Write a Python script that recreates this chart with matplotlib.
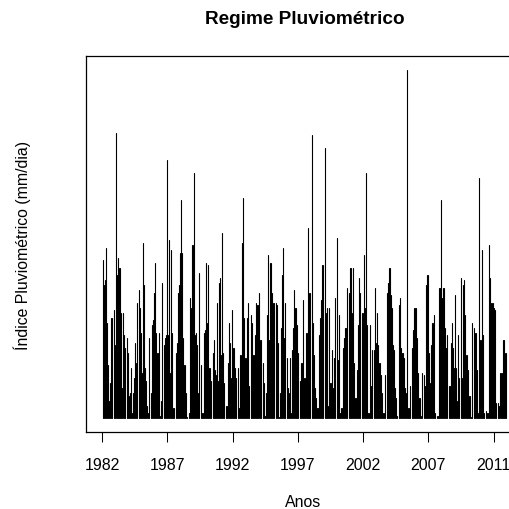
import matplotlib
matplotlib.use("Agg")
import matplotlib.pyplot as plt
import numpy as np
import pandas as pd

# Maximum daily rainfall read per month (mm/dia), Jan..Dec of each year
chuva_1982 = [63, 53, 55, 68, 38, 21, 7, 14, 40, 40, 43, 29]
chuva_1983 = [114, 57, 64, 60, 60, 42, 12, 42, 33, 28, 32, 26]
chuva_1984 = [9, 10, 20, 2, 10, 16, 30, 22, 46, 51, 44, 34]
chuva_1985 = [18, 70, 53, 20, 15, 5, 2, 32, 10, 37, 39, 50]
chuva_1986 = [62, 34, 26, 26, 34, 1, 7, 54, 29, 32, 33, 103]
chuva_1987 = [33, 71, 18, 67, 34, 4, 4, 26, 30, 50, 53, 66]
chuva_1988 = [87, 66, 32, 21, 21, 10, 0.3, 2, 48, 44, 69, 69]
chuva_1989 = [98, 33, 34, 29, 10, 58, 21, 2, 2, 34, 35, 62]
chuva_1990 = [38, 61, 20, 20, 15, 26, 31, 19, 17, 46, 15, 54]
chuva_1991 = [56, 25, 74, 26, 14, 5, 5, 22, 38, 30, 16, 43]
chuva_1992 = [28, 28, 20, 16, 20, 4, 25, 25, 70, 88, 40, 24]
chuva_1993 = [24, 40, 46, 13, 41, 38, 25, 25, 33, 46, 45, 45]
chuva_1994 = [50, 31, 31, 22, 14, 1, 10, 41, 65, 31, 62, 62]
chuva_1995 = [50, 46, 46, 46, 45, 30, 0.3, 10, 36, 57, 68, 32]
chuva_1996 = [46, 24, 12, 10, 24, 2, 27, 36, 51, 44, 44, 37]
chuva_1997 = [26, 15, 22, 22, 47, 16, 16, 34, 34, 76, 50, 50]
chuva_1998 = [113, 38, 25, 12, 8, 4, 4, 33, 40, 47, 61, 61]
chuva_1999 = [108, 42, 44, 5, 44, 14, 14, 27, 12, 24, 48, 72]
chuva_2000 = [23, 41, 2, 4, 4, 28, 32, 36, 36, 52, 50, 60]
chuva_2001 = [60, 42, 60, 22, 8, 8, 19, 37, 56, 50, 42, 42]
chuva_2002 = [65, 44, 98, 37, 2, 2, 37, 13, 27, 27, 52, 30]
chuva_2003 = [42, 29, 22, 22, 17, 10, 2, 2, 17, 50, 54, 60]
chuva_2004 = [60, 49, 44, 29, 27, 12, 8, 1, 45, 48, 28, 26]
chuva_2005 = [26, 24, 12, 10, 139, 4, 4, 13, 28, 35, 44, 44]
chuva_2006 = [44, 32, 18, 8, 8, 1, 18, 17, 13, 53, 57, 57]
chuva_2007 = [26, 14, 29, 38, 38, 41, 2, 1, 1, 52, 52, 87]
chuva_2008 = [48, 52, 52, 36, 28, 33, 13, 13, 30, 38, 28, 20]
chuva_2009 = [49, 20, 7, 33, 16, 56, 16, 53, 55, 41, 25, 25]
chuva_2010 = [19, 9, 9, 0.3, 38, 36, 34, 34, 19, 2, 96, 31]
chuva_2011 = [31, 67, 33, 2, 3, 2, 2, 69, 56, 46, 46, 46]
chuva_2012 = [44, 43, 6, 6, 5, 18, 18, 18, 31, 31, 26, 26]

inicio = "1982-01-01"
fim = "2012-12-31"
tick_labels = ["1982", "1987", "1992", "1997", "2002", "2007", "2011"]
tick_step_days = 1825

serie = (chuva_1982 + chuva_1983 + chuva_1984 + chuva_1985 + chuva_1986 +
         chuva_1987 + chuva_1988 + chuva_1989 + chuva_1990 + chuva_1991 +
         chuva_1992 + chuva_1993 + chuva_1994 + chuva_1995 + chuva_1996 +
         chuva_1997 + chuva_1998 + chuva_1999 + chuva_2000 + chuva_2001 +
         chuva_2002 + chuva_2003 + chuva_2004 + chuva_2005 + chuva_2006 +
         chuva_2007 + chuva_2008 + chuva_2009 + chuva_2010 + chuva_2011 +
         chuva_2012)
serie = np.array(serie, dtype=float)

t0 = pd.Timestamp(inicio)
meses = pd.date_range(inicio, periods=len(serie), freq="MS") + pd.Timedelta(days=14)
x = np.array((meses - t0).days, dtype=float)
x_end = float((pd.Timestamp(fim) - t0).days)

plt.rcParams["font.family"] = ["Liberation Sans", "DejaVu Sans"]

W = H = 510
fig = plt.figure(figsize=(5.1, 5.1), dpi=100)
ax = fig.add_axes([86 / W, 77 / H, 437 / W, 376 / H])

lc = ax.vlines(x, 0, serie, color="black", linewidth=0.8)
lc.set_capstyle("round")

xr = x_end - 0.0
ax.set_xlim(0 - 0.04 * xr, x_end + 0.04 * xr)
ymax = serie.max()
ax.set_ylim(-0.04 * ymax, ymax * 1.04)

ticks = [i * tick_step_days for i in range(len(tick_labels))]
ax.set_xticks(ticks)
ax.set_xticklabels(tick_labels, fontsize=11.4)
ax.tick_params(axis="x", length=7.2, width=0.75, pad=10.5, color="black")
ax.set_yticks([])

for s in ax.spines.values():
    s.set_linewidth(0.9)
    s.set_color("black")

ax.set_xlabel("Anos", fontsize=11.4)
ax.xaxis.set_label_coords((303 - 86) / 437, (433 - 502.5) / 376)
ax.xaxis.label.set_va("center")

ax.set_ylabel("Índice Pluviométrico (mm/dia)", fontsize=11.4)
ax.yaxis.set_label_coords((22 - 86) / 437, 0.5)
ax.yaxis.label.set_va("center")

fig.text(304.5 / W, 1 - 20 / H, "Regime Pluviométrico", ha="center", va="center",
         fontsize=13.7, fontweight="bold")

fig.savefig("out.png", dpi=100, facecolor="white")
